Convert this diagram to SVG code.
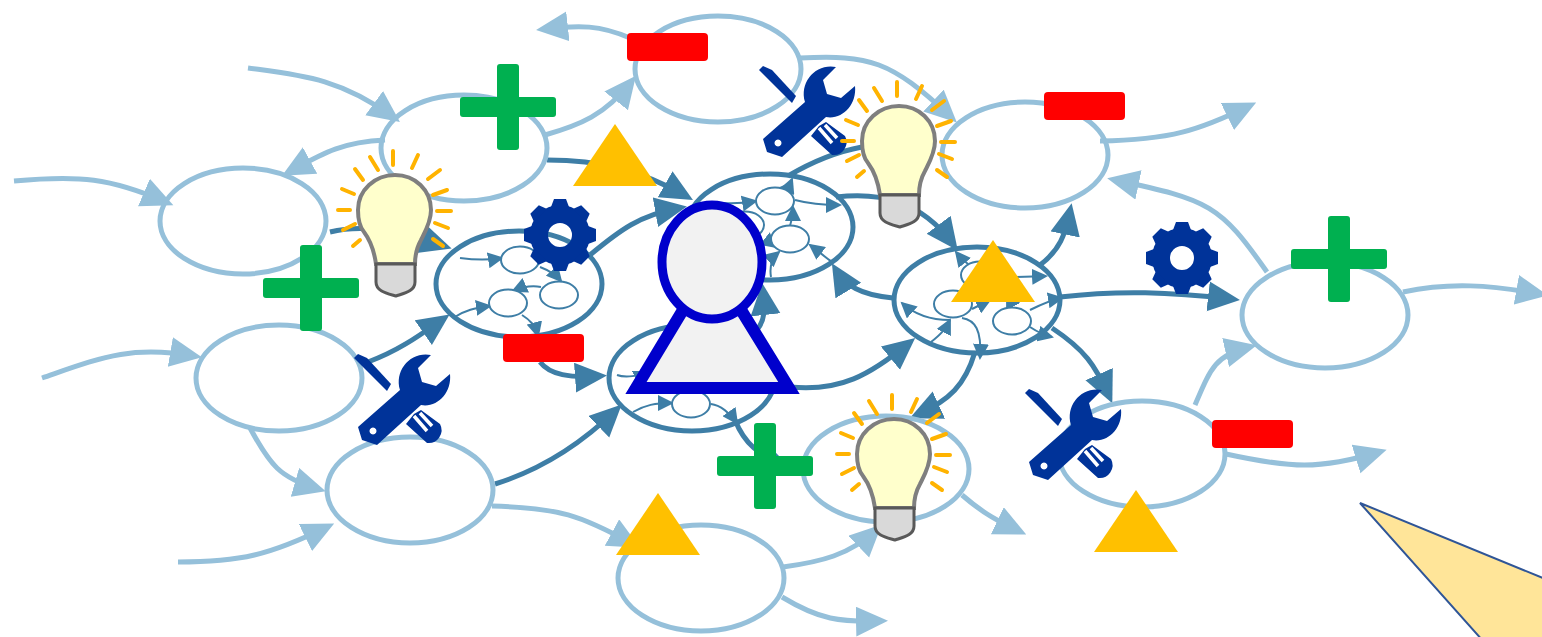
<svg xmlns="http://www.w3.org/2000/svg" width="1542" height="637" viewBox="0 0 1542 637">
<style>
.l{fill:none;stroke:#95C0DA;stroke-width:5;marker-end:url(#mL)}
.d{fill:none;stroke:#3E7EA6;stroke-width:5;marker-end:url(#mD)}
.s{fill:none;stroke:#3E7EA6;stroke-width:2;marker-end:url(#mS)}
.el{fill:none;stroke:#95C0DA;stroke-width:5}
.ed{fill:none;stroke:#3E7EA6;stroke-width:5}
.es{fill:#fff;stroke:#3E7EA6;stroke-width:2}
.plus{fill:#00B050}
.minus{fill:#FF0000}
.tri{fill:#FFC000}
.icon{fill:#003399}
</style>
<defs>
<marker id="mL" markerUnits="userSpaceOnUse" markerWidth="34" markerHeight="32" refX="24" refY="15" orient="auto"><path d="M0,0L32,15L0,30Z" fill="#95C0DA"/></marker>
<marker id="mD" markerUnits="userSpaceOnUse" markerWidth="34" markerHeight="32" refX="24" refY="15" orient="auto"><path d="M0,0L32,15L0,30Z" fill="#3E7EA6"/></marker>
<marker id="mS" markerUnits="userSpaceOnUse" markerWidth="18" markerHeight="16" refX="14" refY="8" orient="auto"><path d="M0,0L16,8L0,16Z" fill="#3E7EA6"/></marker>
<g id="wrench">
<path class="icon" fill-rule="evenodd" d="M763,139L767,152L782,157L826,117C842,120 857,105 855,86L841,98L827,94L823,80L836,67C816,63 799,82 805,102L763,139ZM778,139.500a3.500,3.500 0 1 0 .01,0Z"/>
<path class="icon" d="M759,70L763,66L772,70L796,96L792,103L770,81Z"/>
<path class="icon" d="M811,136L819,126L826,122L845,136A13,13 0 0 1 832,155Z"/>
<path d="M819,128L832,143M825,125L837,138" stroke="#fff" stroke-width="3.500" fill="none"/>
</g>
<path id="tooth" class="icon" d="M-9,-28L-6,-36H6L9,-28Z"/>
<g id="gear">
<circle r="21" fill="none" stroke="#003399" stroke-width="18"/>
<use href="#tooth"/>
<use href="#tooth" transform="rotate(45)"/>
<use href="#tooth" transform="rotate(90)"/>
<use href="#tooth" transform="rotate(135)"/>
<use href="#tooth" transform="rotate(180)"/>
<use href="#tooth" transform="rotate(225)"/>
<use href="#tooth" transform="rotate(270)"/>
<use href="#tooth" transform="rotate(315)"/>
</g>
<g id="bulb">
<path d="M393,151V165M370,157L378,170M355,169L363,180M342,189L354,194M338,210H350M343,230L355,224M353,246L360,240M412,168L418,155M428,179L440,170M433,195L447,190M437,211H451M435,223L448,228M433,239L443,246" stroke="#FFB300" stroke-width="4" stroke-linecap="round" fill="none"/>
<path d="M376,264C374,250 370,240 364,232C358,225 358,215 358,210C358,190 375,175 395,175C415,175 431,190 431,210C431,222 425,232 421,240C417,247 415,255 415,264Z" fill="#FFFFCC" stroke="#7F7F7F" stroke-width="4"/>
<path d="M376,264H415V282C415,291 405,293 396,296C386,293 376,291 376,282Z" fill="#D9D9D9" stroke="#595959" stroke-width="3"/>
</g>
<g id="plusShape" class="plus">
<rect x="-48" y="-10" width="96" height="20" rx="3"/>
<rect x="-11" y="-43" width="22" height="86" rx="3"/>
</g>
<rect id="minusShape" class="minus" width="81" height="28" rx="4"/>
<path id="triShape" class="tri" d="M0,0L42,62H-42Z"/>
</defs>

<g id="connectors">
<path class="l" d="M248,68C300,75 340,78 393.500,117.300"/>
<path class="l" d="M385,140C340,142 320,155 289,172"/>
<path class="l" d="M14,181C80,175 110,178 166,202"/>
<path class="l" d="M42,378C100,358 130,345 194,356"/>
<path class="l" d="M250,428C270,465 280,478 318,489"/>
<path class="l" d="M178,562C240,562 270,555 327,527"/>
<path class="l" d="M492,506C560,508 580,515 633,544"/>
<path class="l" d="M545,135C580,125 605,115 631,82"/>
<path class="l" d="M630,38C600,25 580,25 544,29"/>
<path class="l" d="M800,58C870,55 890,60 951,117"/>
<path class="l" d="M1100,141C1170,140 1200,130 1249,106"/>
<path class="l" d="M1267,272C1220,205 1210,200 1115,180"/>
<path class="l" d="M1403,292C1450,282 1490,285 1540,294"/>
<path class="l" d="M1195,405C1210,370 1215,355 1249,347"/>
<path class="l" d="M1226,454C1290,468 1320,470 1379,452"/>
<path class="l" d="M783,567C820,562 850,555 876,530"/>
<path class="l" d="M782,597C820,620 840,622 880,621"/>
<path class="l" d="M962,495C985,515 1000,522 1019,531"/>

<path class="d" d="M330,232C370,222 410,235 444,246"/>
<path class="d" d="M547,160C600,160 640,170 686,196"/>
<path class="d" d="M590,255C620,230 640,215 679,208"/>
<path class="d" d="M368,362C400,350 420,335 443,319"/>
<path class="d" d="M540,362C550,375 570,378 599,376"/>
<path class="d" d="M495,484C540,470 580,445 616,410"/>
<path class="d" style="marker-end:none" d="M788,176C810,163 835,152 862,147"/>
<path class="d" d="M836,197C880,192 920,200 953,244"/>
<path class="d" d="M893,298C860,295 845,285 836,270"/>
<path class="d" d="M757,330C765,320 765,310 763,291"/>
<path class="d" d="M1040,265C1060,250 1065,235 1070,211"/>
<path class="d" d="M1060,297C1120,290 1170,292 1232,299"/>
<path class="d" d="M1052,328C1085,350 1095,365 1109,396"/>
<path class="d" d="M790,387C840,392 870,375 909,343"/>
<path class="d" d="M975,352C965,385 950,400 917,415"/>
<path class="d" d="M735,420C745,445 760,455 781,463"/>

<path class="s" d="M460,258C475,260 490,260 502,258"/>
<path class="s" d="M540,267C548,270 555,274 561,281"/>
<path class="s" d="M541,287C530,285 522,287 513,291"/>
<path class="s" d="M453,318C465,310 475,308 490,306"/>
<path class="s" d="M522,315C530,320 535,325 538,336"/>

<path class="s" d="M722,203C735,204 745,203 756,201"/>
<path class="s" d="M795,200C810,204 825,205 840,205"/>
<path class="s" d="M790,226C792,220 793,214 793,207"/>
<path class="s" d="M780,188C785,186 790,184 792,179"/>
<path class="s" d="M771,277C769,265 772,258 779,252"/>
<path class="s" d="M764,240C768,242 772,244 776,247"/>
<path class="s" d="M832,262C825,257 818,251 810,245"/>

<path class="s" d="M1000,277C1015,277 1030,277 1046,276"/>
<path class="s" d="M950,320C930,320 915,315 902,303"/>
<path class="s" d="M931,342C940,335 945,330 950,320"/>
<path class="s" d="M962,318C975,320 982,330 980,358"/>
<path class="s" d="M1030,310C1040,305 1050,300 1062,298"/>
<path class="s" d="M1030,327C1036,331 1044,335 1052,337"/>
<path class="s" d="M972,309C978,306 984,303 990,300"/>
<path class="s" d="M1012,307C1011,302 1009,298 1007,294"/>
<path class="s" d="M968,264C964,261 960,257 956,252"/>

<path class="s" d="M617,375C625,378 640,376 648,372"/>
<path class="s" d="M633,412C645,405 655,403 672,403"/>
<path class="s" d="M711,404C720,405 730,413 737,423"/>
</g>

<g id="node-1"><ellipse class="el" cx="464" cy="148" rx="83" ry="53"/></g>
<g id="node-2"><ellipse class="el" cx="718" cy="69" rx="83" ry="53"/></g>
<g id="node-3"><ellipse class="el" cx="1025" cy="155" rx="83" ry="53"/></g>
<g id="node-4"><ellipse class="el" cx="243" cy="221" rx="83" ry="53"/></g>
<g id="node-5"><ellipse class="el" cx="279" cy="378" rx="83" ry="53"/></g>
<g id="node-6"><ellipse class="el" cx="410" cy="490" rx="83" ry="53"/></g>
<g id="node-7"><ellipse class="el" cx="701" cy="578" rx="83" ry="53"/></g>
<g id="node-8"><ellipse class="el" cx="886" cy="469" rx="83" ry="53"/></g>
<g id="node-9"><ellipse class="el" cx="1142" cy="454" rx="83" ry="53"/></g>
<g id="node-10"><ellipse class="el" cx="1325" cy="315" rx="83" ry="53"/></g>

<g id="cluster-left">
<ellipse class="ed" cx="519" cy="284" rx="83" ry="53"/>
<ellipse class="es" cx="520" cy="260" rx="19" ry="13.500"/>
<ellipse class="es" cx="508" cy="303" rx="19" ry="13.500"/>
<ellipse class="es" cx="559" cy="295" rx="19" ry="13.500"/>
</g>
<g id="cluster-top">
<ellipse class="ed" cx="770" cy="227" rx="83" ry="53"/>
<ellipse class="es" cx="745" cy="225" rx="19" ry="13.500"/>
<ellipse class="es" cx="775" cy="201" rx="19" ry="13.500"/>
<ellipse class="es" cx="790" cy="239" rx="19" ry="13.500"/>
</g>
<g id="cluster-right">
<ellipse class="ed" cx="977" cy="300" rx="83" ry="53"/>
<ellipse class="es" cx="980" cy="275" rx="19" ry="13.500"/>
<ellipse class="es" cx="953" cy="304" rx="19" ry="13.500"/>
<ellipse class="es" cx="1012" cy="321" rx="19" ry="13.500"/>
</g>
<g id="cluster-bottom">
<ellipse class="ed" cx="692" cy="378" rx="83" ry="53"/>
<ellipse class="es" cx="691" cy="404" rx="19" ry="13.500"/>
</g>

<g id="person">
<path d="M636,388H789L738,305H686Z" fill="#F2F2F2" stroke="#0000CC" stroke-width="12"/>
<ellipse cx="712" cy="262" rx="50" ry="57" fill="#F2F2F2" stroke="#0000CC" stroke-width="9"/>
</g>

<g id="gear-1"><use href="#gear" x="560" y="235"/></g>
<g id="gear-2"><use href="#gear" x="1182" y="258"/></g>
<g id="wrench-1"><use href="#wrench"/></g>
<g id="wrench-2"><use href="#wrench" x="-405" y="288"/></g>
<g id="wrench-3"><use href="#wrench" x="266" y="323"/></g>
<g id="bulb-1"><use href="#bulb"/></g>
<g id="bulb-2"><use href="#bulb" x="504" y="-69"/></g>
<g id="bulb-3"><use href="#bulb" x="499" y="244"/></g>
<g id="plus-1"><use href="#plusShape" x="508" y="107"/></g>
<g id="plus-2"><use href="#plusShape" x="311" y="288"/></g>
<g id="plus-3"><use href="#plusShape" x="1339" y="259"/></g>
<g id="plus-4"><use href="#plusShape" x="765" y="466"/></g>
<g id="minus-1"><use href="#minusShape" x="627" y="33"/></g>
<g id="minus-2"><use href="#minusShape" x="1044" y="92"/></g>
<g id="minus-3"><use href="#minusShape" x="503" y="334"/></g>
<g id="minus-4"><use href="#minusShape" x="1212" y="420"/></g>
<g id="tri-1"><use href="#triShape" x="615" y="124"/></g>
<g id="tri-2"><use href="#triShape" x="658" y="493"/></g>
<g id="tri-3"><use href="#triShape" x="993" y="240"/></g>
<g id="tri-4"><use href="#triShape" x="1136" y="490"/></g>
<g id="pointer"><path d="M1360,503L1560,585V660H1500Z" fill="#FFE599" stroke="#2F5597" stroke-width="2"/></g>
</svg>
